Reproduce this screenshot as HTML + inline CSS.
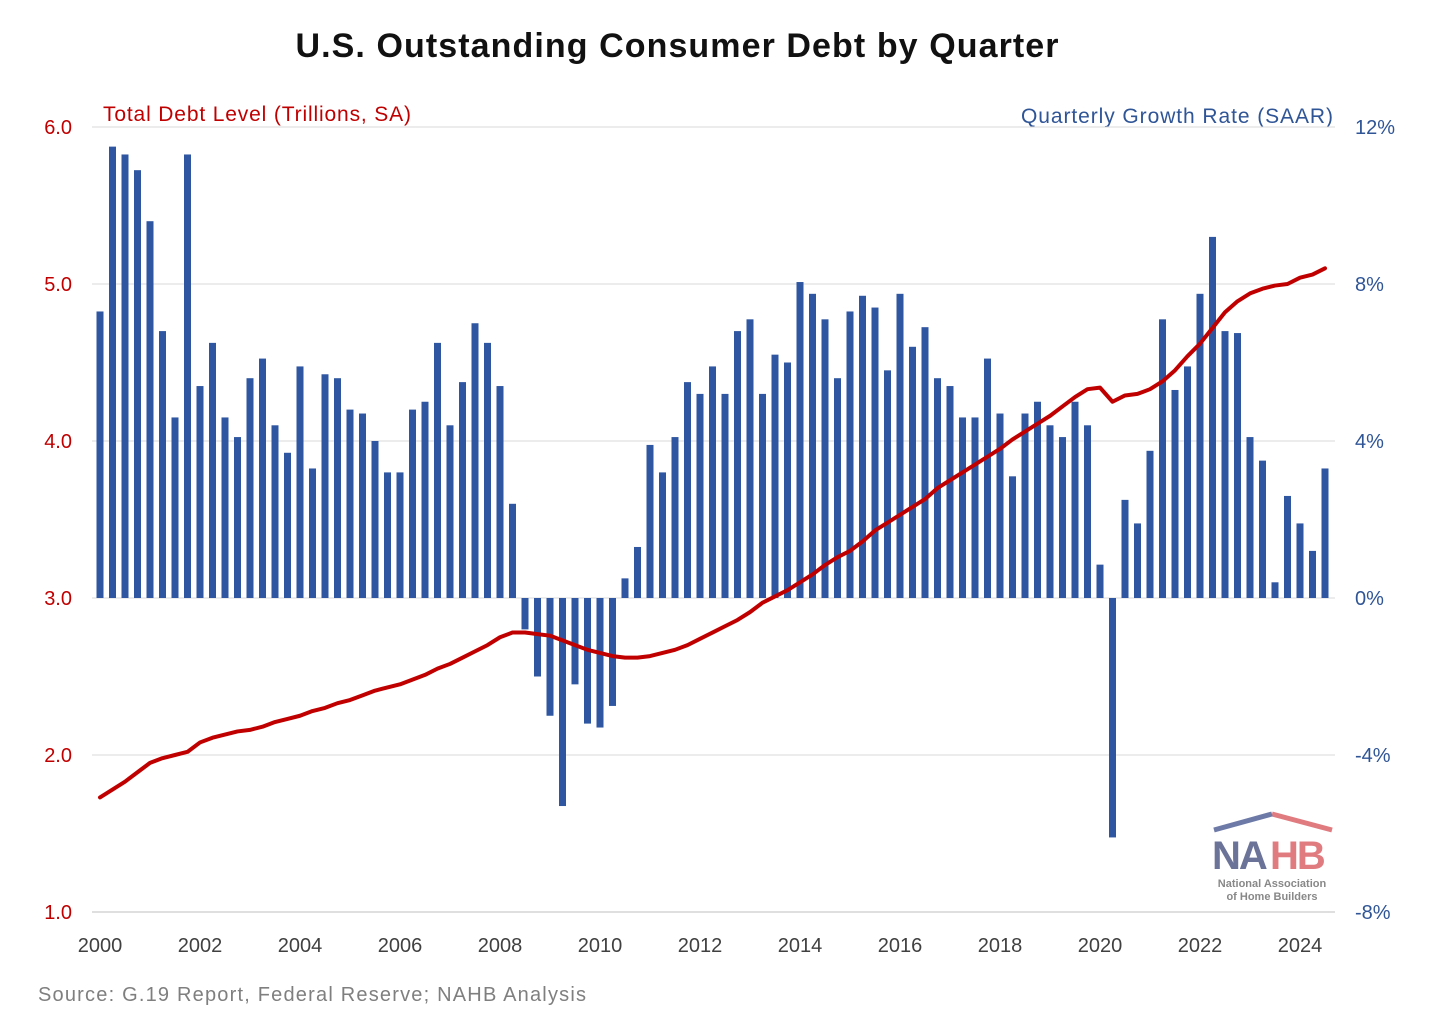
<!DOCTYPE html>
<html><head><meta charset="utf-8"><style>
body{margin:0;background:#fff;width:1456px;height:1030px;overflow:hidden;font-family:"Liberation Sans",sans-serif}
</style></head><body>
<svg id="c" width="1456" height="1030" xmlns="http://www.w3.org/2000/svg">
<text x="677" y="57" text-anchor="middle" font-size="34" font-weight="bold" fill="#111" textLength="763">U.S. Outstanding Consumer Debt by Quarter</text>
<text x="103" y="121" font-size="21" fill="#c00000" textLength="308">Total Debt Level (Trillions, SA)</text>
<text x="1021" y="123" font-size="21" fill="#2f5597" textLength="312">Quarterly Growth Rate (SAAR)</text>
<text x="38" y="1001" font-size="20" fill="#7f7f7f" textLength="548">Source: G.19 Report, Federal Reserve; NAHB Analysis</text>
<g>
<polyline points="1272,814 1332,830" fill="none" stroke="#e07b80" stroke-width="5"/>
<polyline points="1214,830 1272,814" fill="none" stroke="#6d7aa8" stroke-width="5"/>
<text x="1212" y="869" font-size="40" font-weight="bold" fill="#6b7398" letter-spacing="-2">NA</text>
<text x="1270" y="869" font-size="40" font-weight="bold" fill="#e07b80" letter-spacing="-2">HB</text>
<text x="1272" y="887" text-anchor="middle" font-size="11" font-weight="bold" fill="#888">National Association</text>
<text x="1272" y="900" text-anchor="middle" font-size="11" font-weight="bold" fill="#888">of Home Builders</text>
</g>
<g id="grid"></g><g id="bars"></g><g id="line"></g><g id="labels"></g>
</svg>
<script>
const leftTicks=["1.0","2.0","3.0","4.0","5.0","6.0"];
const rightTicks=["-8%","-4%","0%","4%","8%","12%"];
const yearLabels=["2000","2002","2004","2006","2008","2010","2012","2014","2016","2018","2020","2022","2024"];
const growth=[7.3,11.5,11.3,10.9,9.6,6.8,4.6,11.3,5.4,6.5,4.6,4.1,5.6,6.1,4.4,3.7,5.9,3.3,5.7,5.6,4.8,4.7,4.0,3.2,3.2,4.8,5.0,6.5,4.4,5.5,7.0,6.5,5.4,2.4,-0.8,-2.0,-3.0,-5.3,-2.2,-3.2,-3.3,-2.75,0.5,1.3,3.9,3.2,4.1,5.5,5.2,5.9,5.2,6.8,7.1,5.2,6.2,6.0,8.05,7.75,7.1,5.6,7.3,7.7,7.4,5.8,7.75,6.4,6.9,5.6,5.4,4.6,4.6,6.1,4.7,3.1,4.7,5.0,4.4,4.1,5.0,4.4,0.85,-6.1,2.5,1.9,3.75,7.1,5.3,5.9,7.75,9.2,6.8,6.75,4.1,3.5,0.4,2.6,1.9,1.2,3.3];
const debt=[1.73,1.78,1.83,1.89,1.95,1.98,2.00,2.02,2.08,2.11,2.13,2.15,2.16,2.18,2.21,2.23,2.25,2.28,2.30,2.33,2.35,2.38,2.41,2.43,2.45,2.48,2.51,2.55,2.58,2.62,2.66,2.70,2.75,2.78,2.78,2.77,2.76,2.73,2.70,2.67,2.65,2.63,2.62,2.62,2.63,2.65,2.67,2.70,2.74,2.78,2.82,2.86,2.91,2.97,3.01,3.05,3.10,3.15,3.21,3.26,3.30,3.36,3.43,3.48,3.53,3.58,3.63,3.70,3.75,3.80,3.85,3.90,3.95,4.01,4.06,4.11,4.16,4.22,4.28,4.33,4.34,4.25,4.29,4.30,4.33,4.38,4.45,4.54,4.62,4.72,4.82,4.89,4.94,4.97,4.99,5.00,5.04,5.06,5.10];
const NS="http://www.w3.org/2000/svg";
const xq=i=>100+12.5*i;
const yL=v=>127+(6-v)*157;
const yR=p=>598-p*39.25;
function mk(t,a,p){const e=document.createElementNS(NS,t);for(const k in a)e.setAttribute(k,a[k]);p.appendChild(e);return e;}
const grid=document.getElementById('grid'),lab=document.getElementById('labels');
leftTicks.forEach((t,i)=>{const v=parseFloat(t),y=yL(v);
 const g=mk('line',{x1:92,x2:1335,y1:y,y2:y,stroke:i==0?'#bfbfbf':'#d9d9d9','stroke-width':1},grid);
 
 
 const a=mk('text',{x:72,y:y+7,'text-anchor':'end','font-size':20,fill:'#c00000'},lab);a.textContent=t;
 
 
 const b=mk('text',{x:1355,y:yR(parseFloat(rightTicks[i]))+7,'font-size':20,fill:'#2f5597'},lab);b.textContent=rightTicks[i];
 
 
});
yearLabels.forEach((t,i)=>{const e=mk('text',{x:xq(i*8),y:952,'text-anchor':'middle','font-size':20,fill:'#404040'},lab);e.textContent=t;
 
 });
const bars=document.getElementById('bars');
growth.forEach((p,i)=>{const y0=yR(0),y=yR(p);
 const r=mk('rect',{x:xq(i)-3.5,y:Math.min(y,y0),width:7,height:Math.abs(y-y0),fill:'#2f56a0'},bars);
 
 });
const pl=mk('polyline',{points:debt.map((v,i)=>xq(i)+','+yL(v)).join(' '),fill:'none',stroke:'#c00000','stroke-width':4,'stroke-linejoin':'round','stroke-linecap':'round'},document.getElementById('line'));


</script>
</body></html>
